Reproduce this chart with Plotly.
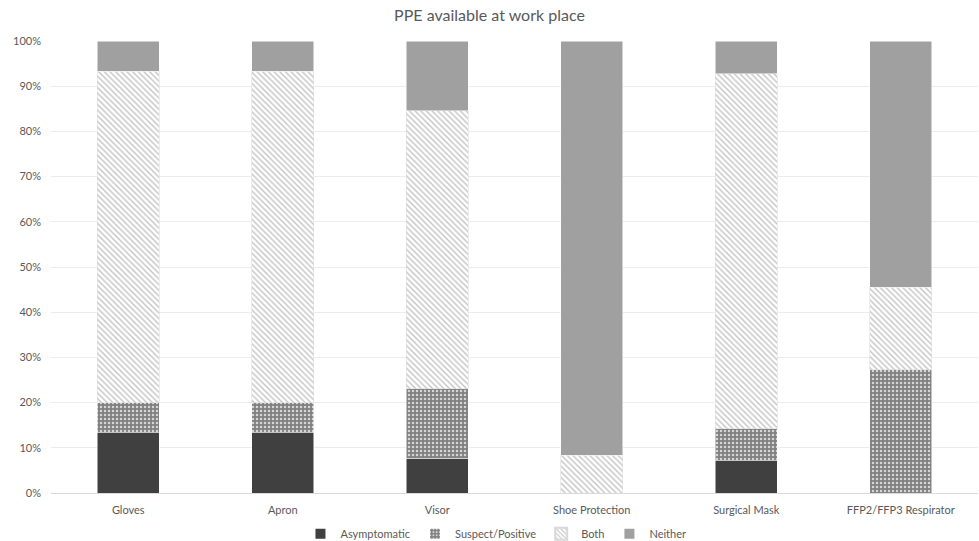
import plotly.graph_objects as go

categories = ["Gloves", "Apron", "Visor", "Shoe Protection", "Surgical Mask", "FFP2/FFP3 Respirator"]
asymptomatic = [13.3, 13.3, 7.7, 0.0, 7.1, 0.0]
suspect_positive = [6.7, 6.7, 15.4, 0.0, 7.1, 27.3]
both = [73.3, 73.3, 61.5, 8.3, 78.6, 18.2]
neither = [6.7, 6.7, 15.4, 91.7, 7.2, 54.5]

tick_vals = [0, 10, 20, 30, 40, 50, 60, 70, 80, 90, 100]
tick_text = [f"{v}%" for v in tick_vals]

FONT = "Lato, Calibri, Carlito, sans-serif"

fig = go.Figure()
fig.add_bar(
    name="Asymptomatic", x=categories, y=asymptomatic,
    marker=dict(color="#404040", line=dict(color="#ffffff", width=0.5)),
)
fig.add_bar(
    name="Suspect/Positive", x=categories, y=suspect_positive,
    marker=dict(
        color="#7f7f7f",
        line=dict(color="#ffffff", width=0.5),
        pattern=dict(shape=".", bgcolor="#808080", fgcolor="#d6d6d6",
                     size=4, solidity=0.3, fillmode="replace"),
    ),
)
fig.add_bar(
    name="Both", x=categories, y=both,
    marker=dict(
        color="#ffffff",
        line=dict(color="#d9d9d9", width=0.5),
        pattern=dict(shape="\\", bgcolor="#ffffff", fgcolor="#c4c4c4",
                     size=4, solidity=0.35, fillmode="replace"),
    ),
)
fig.add_bar(
    name="Neither", x=categories, y=neither,
    marker=dict(color="#a0a0a0", line=dict(color="#ffffff", width=0.5)),
)

fig.update_layout(
    barmode="stack",
    bargap=0.6,
    width=979, height=541,
    margin=dict(l=51, r=1, t=41, b=48, autoexpand=False),
    paper_bgcolor="#ffffff",
    plot_bgcolor="#ffffff",
    font=dict(family=FONT, size=11, color="#595959"),
    title=dict(text="PPE available at work place", x=0.5, xanchor="center",
               y=0.972, yanchor="middle",
               font=dict(family=FONT, size=16, color="#595959")),
    legend=dict(orientation="h", x=0.48, xanchor="center", y=-0.09, yanchor="middle",
                font=dict(family=FONT, size=11, color="#595959"),
                itemwidth=30, traceorder="normal", itemsizing="constant"),
    showlegend=True,
)
fig.update_xaxes(showline=True, linecolor="#d9d9d9", linewidth=1, ticks="",
                 ticklabelstandoff=7, automargin=False,
                 tickfont=dict(size=11, color="#595959"))
fig.update_yaxes(range=[0, 100], tickvals=tick_vals, ticktext=tick_text,
                 showgrid=True, gridcolor="#ececec", gridwidth=1,
                 zeroline=False, showline=False, ticks="",
                 ticklabelstandoff=9, automargin=False,
                 tickfont=dict(size=11, color="#595959"))

fig.write_html("out.html")
